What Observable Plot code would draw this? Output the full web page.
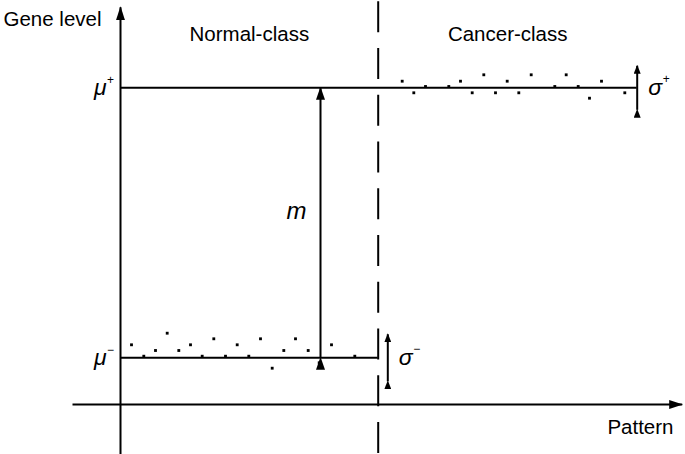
<!DOCTYPE html>
<html><head><meta charset="utf-8">
<script src="https://cdn.jsdelivr.net/npm/d3@7"></script>
<script src="https://cdn.jsdelivr.net/npm/@observablehq/plot@0.6"></script>
<style>html,body{margin:0;padding:0;background:#fff;} #chart svg{display:block;}</style>
</head><body><div id="chart"></div>
<script>
// ---- data (gene-level units on y, pattern units on x) ----
const muLow = 4.67;          // mean gene level, normal class
const muHigh = 31.67;        // mean gene level, cancer class
const classBounds = [0, 25.77, 51.67];   // start, class threshold, end of patterns
const classNames = ["Normal-class", "Cancer-class"];
const normalX = [1.1, 2.33, 3.5, 4.67, 5.83, 7.0, 8.17, 9.33, 10.5, 11.67, 12.83, 14.0, 15.17, 16.33, 17.5, 18.77, 19.87, 21.1, 23.43];
const normalY = [5.97, 4.83, 5.4, 7.13, 5.4, 5.97, 4.83, 6.57, 4.83, 5.97, 4.83, 6.57, 3.63, 5.4, 6.57, 5.4, 4.17, 5.97, 4.83];
const cancerX = [28.17, 29.33, 30.5, 32.83, 34.0, 35.17, 36.33, 37.5, 38.67, 39.83, 41.07, 43.43, 44.57, 45.77, 46.9, 48.1, 50.43];
const cancerY = [32.33, 31.17, 31.8, 31.8, 32.33, 31.17, 32.97, 31.17, 32.33, 31.17, 32.97, 31.8, 32.97, 31.8, 30.63, 32.33, 31.17];
const sigmaX = [26.73, 51.67];       // where the spread arrows stand
const sigmaHalf = [2.35, 2.2];       // half-spread of each class
const sigmaSup = ["\u2212", "+"];
const mArrowX = 20;                  // margin arrow position
const xAxisExtent = [-4.8, 56.17];
const yAxisExtent = [-5, 39.73];
const xDomain = [-12, 56.5];
const yDomain = [-5, 40.4];

// ---- derived tables ----
const dots = [
  ...normalX.map((x, i) => ({x, y: normalY[i]})),
  ...cancerX.map((x, i) => ({x, y: cancerY[i]}))
];
const levels = [
  {y: muLow, x1: classBounds[0], x2: classBounds[1]},
  {y: muHigh, x1: classBounds[0], x2: classBounds[2]}
];
const axes = [
  {x1: classBounds[0], y1: yAxisExtent[0], x2: classBounds[0], y2: yAxisExtent[1]},
  {x1: xAxisExtent[0], y1: 0, x2: xAxisExtent[1], y2: 0}
];
const means = [{y: muHigh, sup: "+"}, {y: muLow, sup: "\u2212"}];
const sigmas = sigmaX.map((x, i) => ({x, y: i === 0 ? muLow : muHigh, h: sigmaHalf[i], sup: sigmaSup[i]}));

const FONT = "Liberation Sans, Arial, Helvetica, sans-serif";
const INK = "#000";

const svg = Plot.plot({
  width: 685, height: 454, margin: 0,
  x: {domain: xDomain, axis: null},
  y: {domain: yDomain, axis: null},
  style: {background: "#fff", color: INK, fontFamily: FONT},
  marks: [
    Plot.ruleX([classBounds[1]], {stroke: INK, strokeWidth: 2, strokeDasharray: "31,15.75", strokeDashoffset: 45.5}),
    Plot.ruleY(levels, {y: "y", x1: "x1", x2: "x2", stroke: INK, strokeWidth: 2}),
    Plot.link(axes, {x1: "x1", y1: "y1", x2: "x2", y2: "y2", stroke: INK, strokeWidth: 2, markerEnd: "arrow"}),
    Plot.link([{x: mArrowX}], {x1: "x", x2: "x", y1: () => muLow, y2: () => muHigh, stroke: INK, strokeWidth: 2, markerStart: "arrow", markerEnd: "arrow"}),
    Plot.link(sigmas, {x1: "x", x2: "x", y1: d => d.y - d.h, y2: d => d.y + d.h, stroke: INK, strokeWidth: 2, markerStart: "arrow", markerEnd: "arrow"}),
    Plot.dot(dots, {x: "x", y: "y", symbol: "square", r: 1.6, fill: INK}),
    Plot.text(["Gene level"], {text: d => d, frameAnchor: "top-left", textAnchor: "start", lineAnchor: "top", dx: 3, dy: 11, fontSize: 20.5, fill: INK}),
    Plot.text(classNames, {text: d => d, x: (d, i) => (classBounds[i] + classBounds[i + 1]) / 2, frameAnchor: "top", lineAnchor: "top", dy: 26, fontSize: 20.5, fill: INK}),
    Plot.text(["Pattern"], {text: d => d, frameAnchor: "top-right", textAnchor: "end", lineAnchor: "top", dx: -12, dy: 419, fontSize: 20.5, fill: INK}),
    Plot.text(means, {x: () => classBounds[0], y: "y", text: () => "\u03bc", textAnchor: "end", dx: -14, fontStyle: "italic", fontSize: 23, fill: INK}),
    Plot.text(means, {x: () => classBounds[0], y: "y", text: "sup", textAnchor: "middle", dx: -10, dy: -8, fontSize: 12, fill: INK}),
    Plot.text(sigmas, {x: "x", y: "y", text: () => "\u03c3", textAnchor: "start", dx: 11, fontStyle: "italic", fontSize: 23, fill: INK}),
    Plot.text(sigmas, {x: "x", y: "y", text: "sup", textAnchor: "middle", dx: 29, dy: -9, fontSize: 12, fill: INK}),
    Plot.text([{x: mArrowX}], {x: "x", y: () => (muLow + muHigh) / 2, text: () => "m", textAnchor: "end", dx: -14, dy: -11, fontStyle: "italic", fontSize: 24, fill: INK})
  ]
});

// filled triangular arrowheads
const heads = [[13, 9], [12, 9], [8, 7]];
svg.querySelectorAll('g[aria-label="link"]').forEach((g, gi) => {
  const [len, wid] = heads[Math.min(gi, heads.length - 1)];
  g.querySelectorAll("marker").forEach(m => {
    m.setAttribute("viewBox", `${-len} ${-wid / 2} ${len + 1} ${wid}`);
    m.setAttribute("markerWidth", len + 1);
    m.setAttribute("markerHeight", wid);
    m.setAttribute("markerUnits", "userSpaceOnUse");
    m.setAttribute("refX", 0);
    m.setAttribute("refY", 0);
    m.setAttribute("fill", INK);
    m.setAttribute("stroke", "none");
    while (m.firstChild) m.removeChild(m.firstChild);
    const p = document.createElementNS("http://www.w3.org/2000/svg", "path");
    p.setAttribute("d", `M${-len},${-wid / 2}L1,0L${-len},${wid / 2}Z`);
    m.appendChild(p);
  });
});

document.getElementById("chart").appendChild(svg);
</script>
</body></html>
